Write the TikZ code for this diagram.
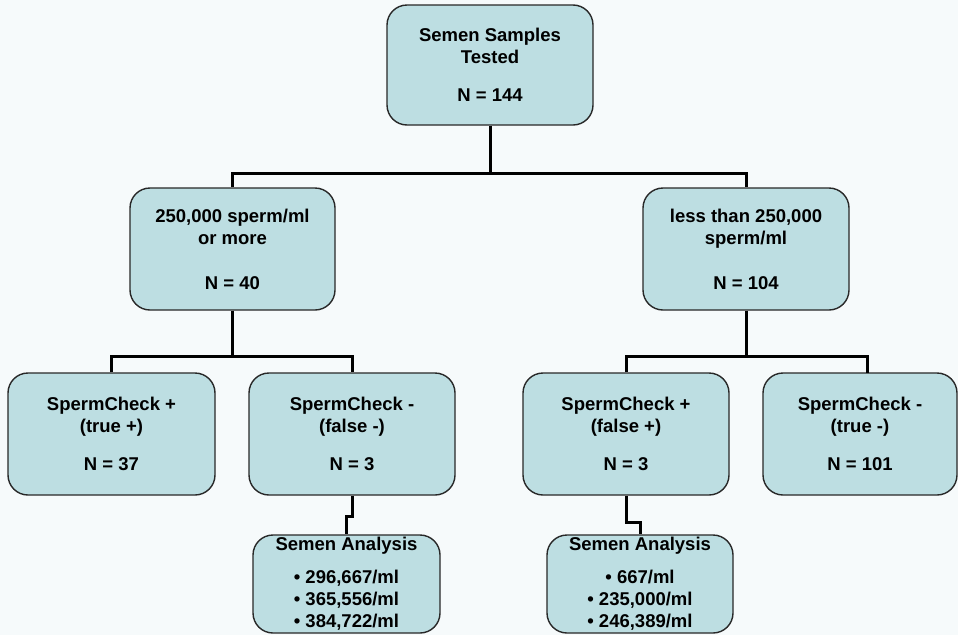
\documentclass[tikz,border=0pt]{standalone}
\usepackage{fontspec}
\setmainfont{Liberation Sans}
\definecolor{boxfill}{RGB}{189,222,226}
\definecolor{bgcol}{RGB}{246,250,251}
\definecolor{edgecol}{RGB}{40,40,40}
\begin{document}
\begin{tikzpicture}[x=1pt,y=-1pt,
  box/.style={draw=edgecol,line width=1.4pt,fill=boxfill,rounded corners=20pt,
    inner sep=0pt,align=center,font=\fontsize{18.5}{22}\selectfont\bfseries},
  conn/.style={draw=black,line width=3pt}]
\fill[bgcol] (0,0) rectangle (958,635);
\useasboundingbox (0,0) rectangle (958,635);
\node[box,minimum width=206pt,minimum height=120pt] (top) at (490,65)
  {Semen Samples\\Tested\\[16pt]N = 144};
\node[box,minimum width=205pt,minimum height=122pt] (L) at (232.5,249)
  {250,000 sperm/ml\\or more\\[23pt]N = 40};
\node[box,minimum width=206pt,minimum height=122pt] (R) at (746,249)
  {less than 250,000\\sperm/ml\\[23pt]N = 104};
\node[box,minimum width=207pt,minimum height=122pt] (LL) at (111.5,434)
  {SpermCheck +\\(true +)\\[16pt]N = 37};
\node[box,minimum width=206pt,minimum height=122pt] (LR) at (352,434)
  {SpermCheck -\\(false -)\\[16pt]N = 3};
\node[box,minimum width=206pt,minimum height=122pt] (RL) at (626,434)
  {SpermCheck +\\(false +)\\[16pt]N = 3};
\node[box,minimum width=194pt,minimum height=122pt] (RR) at (860,434)
  {SpermCheck -\\(true -)\\[16pt]N = 101};
\node[box,minimum width=187pt,minimum height=98pt] (SA1) at (346.5,584)
  {Semen Analysis\\[11pt]• 296,667/ml\\• 365,556/ml\\• 384,722/ml};
\node[box,minimum width=186pt,minimum height=98pt] (SA2) at (640,584)
  {Semen Analysis\\[11pt]• 667/ml\\• 235,000/ml\\• 246,389/ml};
\coordinate (j1) at (490,173);
\coordinate (j2) at (232.5,356);
\coordinate (j3) at (746,356);
\coordinate (rrtop) at (867,373);
\draw[conn] (top.south) -- (j1);
\draw[conn] (L.north) |- (j1) -| (R.north);
\draw[conn] (L.south) -- (j2);
\draw[conn] (LL.north) |- (j2) -| (LR.north);
\draw[conn] (R.south) -- (j3);
\draw[conn] (RL.north) |- (j3) -| (rrtop);
\draw[conn] (LR.south) -- ++(0,21) -| (SA1.north);
\draw[conn] (RL.south) -- ++(0,27) -| (SA2.north);
\end{tikzpicture}
\end{document}
